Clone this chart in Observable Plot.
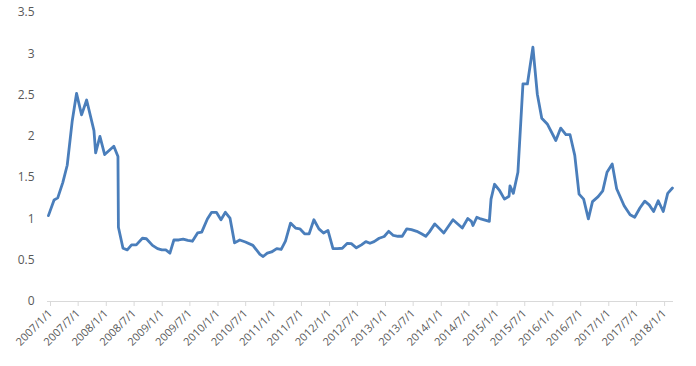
<!DOCTYPE html>
<html>
<head>
<meta charset="utf-8">
<script src="https://cdn.jsdelivr.net/npm/d3@7"></script>
<script src="https://cdn.jsdelivr.net/npm/@observablehq/plot@0.6"></script>
<style>
  html, body { margin: 0; padding: 0; background: #fff; }
</style>
</head>
<body>
<div id="chart"></div>
<script>
const dates = [
  "2007-01-07","2007-02-13","2007-03-09","2007-04-11","2007-05-10","2007-06-12","2007-07-10","2007-08-12","2007-09-14","2007-11-01",
  "2007-11-12","2007-12-10","2008-01-10","2008-03-10","2008-04-06","2008-04-09","2008-05-09","2008-06-06","2008-07-04","2008-08-04",
  "2008-09-13","2008-10-09","2008-11-18","2008-12-21","2009-01-18","2009-02-13","2009-03-12","2009-04-07","2009-05-09","2009-06-07",
  "2009-07-07","2009-08-06","2009-09-09","2009-10-06","2009-11-12","2009-12-10","2010-01-10","2010-02-09","2010-03-10","2010-04-09",
  "2010-05-09","2010-06-12","2010-07-19","2010-09-06","2010-10-22","2010-11-12","2010-12-09","2011-01-06","2011-02-09","2011-03-10",
  "2011-04-07","2011-05-10","2011-06-12","2011-07-10","2011-08-10","2011-09-09","2011-10-10","2011-11-12","2011-12-12","2012-01-10",
  "2012-02-12","2012-03-11","2012-04-13","2012-05-16","2012-06-11","2012-07-14","2012-08-16","2012-09-14","2012-10-11","2012-11-07",
  "2012-12-10","2013-01-12","2013-02-10","2013-03-13","2013-04-12","2013-05-10","2013-06-09","2013-07-09","2013-08-13","2013-09-13",
  "2013-10-11","2013-11-03","2013-12-09","2014-02-06","2014-04-07","2014-06-07","2014-07-13","2014-08-06","2014-08-16","2014-09-10",
  "2014-10-06","2014-12-01","2014-12-12","2015-01-04","2015-02-04","2015-03-10","2015-04-09","2015-04-15","2015-05-07","2015-06-06",
  "2015-07-09","2015-08-07","2015-09-12","2015-10-11","2015-11-09","2015-12-15","2016-02-09","2016-03-12","2016-04-15","2016-05-12",
  "2016-06-12","2016-07-10","2016-08-09","2016-09-09","2016-10-06","2016-11-12","2016-12-12","2017-01-09","2017-02-12","2017-03-13",
  "2017-05-01","2017-06-09","2017-07-09","2017-08-13","2017-09-13","2017-10-12","2017-11-10","2017-12-10","2018-01-12","2018-02-10",
  "2018-03-13"
];
const values = [
  1.04,1.23,1.255,1.44,1.65,2.19,2.52,2.26,2.44,2.07,
  1.80,2.00,1.78,1.88,1.755,0.90,0.645,0.625,0.686,0.686,
  0.766,0.76,0.68,0.64,0.625,0.625,0.585,0.745,0.745,0.755,
  0.74,0.73,0.83,0.84,1.00,1.08,1.08,0.99,1.08,1.01,
  0.71,0.745,0.72,0.68,0.57,0.545,0.585,0.60,0.64,0.63,
  0.73,0.95,0.89,0.88,0.82,0.82,0.99,0.88,0.83,0.86,
  0.64,0.64,0.645,0.705,0.70,0.65,0.686,0.725,0.705,0.725,
  0.766,0.787,0.85,0.80,0.79,0.79,0.88,0.87,0.85,0.82,
  0.79,0.84,0.94,0.83,0.99,0.89,1.005,0.97,0.92,1.02,
  1.00,0.97,1.24,1.42,1.35,1.24,1.275,1.40,1.31,1.565,
  2.635,2.635,3.08,2.51,2.22,2.15,1.95,2.10,2.02,2.02,
  1.77,1.30,1.24,1.00,1.21,1.27,1.34,1.565,1.665,1.365,
  1.16,1.05,1.02,1.135,1.215,1.17,1.09,1.22,1.09,1.31,
  1.375
];
const xTickDates = [
  "2007-01-01","2007-07-01","2008-01-01","2008-07-01","2009-01-01","2009-07-01","2010-01-01","2010-07-01",
  "2011-01-01","2011-07-01","2012-01-01","2012-07-01","2013-01-01","2013-07-01","2014-01-01","2014-07-01",
  "2015-01-01","2015-07-01","2016-01-01","2016-07-01","2017-01-01","2017-07-01","2018-01-01"
];
const yTicks = [0, 0.5, 1, 1.5, 2, 2.5, 3, 3.5];

const data = dates.map((d, i) => ({date: new Date(d), value: values[i]}));
const xTicks = xTickDates.map(d => new Date(d));
const fmt = d3.utcFormat("%Y/%-m/%-d");

const chart = Plot.plot({
  width: 696,
  height: 366,
  marginLeft: 47,
  marginRight: 23,
  marginTop: 12,
  marginBottom: 65,
  style: {fontSize: "12px", fontFamily: "'Open Sans', 'Liberation Sans', sans-serif", color: "#595959", background: "#fff"},
  x: {type: "utc", domain: [new Date("2007-01-01"), new Date("2018-03-20")], label: null},
  y: {domain: [0, 3.5], label: null},
  marks: [
    Plot.ruleY([0], {stroke: "#d9d9d9", strokeWidth: 1}),
    Plot.axisY({ticks: yTicks, tickSize: 0, tickPadding: 13, tickFormat: d => String(d), label: null, fill: "#595959", fontSize: 12}),
    Plot.axisX({ticks: xTicks, tickFormat: fmt, tickRotate: -45, tickSize: 5, tickPadding: 5, dx: 3, stroke: "#d9d9d9", fill: "#595959", label: null, fontSize: 11}),
    Plot.line(data, {x: "date", y: "value", stroke: "#4a7ebb", strokeWidth: 2.8, strokeLinejoin: "round"})
  ]
});
document.getElementById("chart").appendChild(chart);
</script>
</body>
</html>
